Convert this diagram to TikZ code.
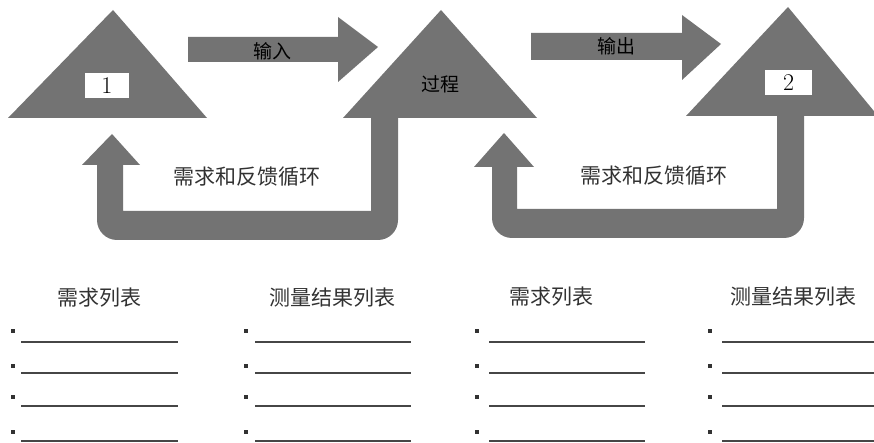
\documentclass[tikz,border=0pt]{standalone}
\usepackage{fontspec}
\newfontfamily\cjk{Noto Sans CJK SC}
\definecolor{shapegray}{RGB}{115,115,115}
\definecolor{txtgray}{RGB}{50,50,50}
\definecolor{linegray}{RGB}{70,70,70}
\tikzset{
  shapefill/.style={fill=shapegray},
  numbox/.style={fill=white, minimum width=44pt, minimum height=25pt, inner sep=0pt, font=\fontsize{24}{26}\selectfont},
  flowlabel/.style={font=\cjk\fontsize{19}{22}\selectfont, text=black, inner sep=0pt},
  looplabel/.style={font=\cjk\fontsize{21}{24}\selectfont, text=txtgray, inner sep=0pt},
  listhead/.style={font=\cjk\fontsize{21}{24}\selectfont, text=txtgray, inner sep=0pt},
  bulletsq/.style={fill=txtgray, minimum size=4pt, inner sep=0pt},
  blankline/.style={draw=linegray, line width=1.4pt}
}
\begin{document}
\begin{tikzpicture}[x=1pt,y=-1pt]
\useasboundingbox (0,0) rectangle (874,443);
% triangles
\fill[shapefill] (8,118) -- (113,10) -- (207,118) -- cycle;
\fill[shapefill] (343,118) -- (441,10) -- (537,118) -- cycle;
\fill[shapefill] (686,116) -- (788,7) -- (878,116) -- cycle;
% input / output arrows
\fill[shapefill] (188,37) -- (338,37) -- (338,17) -- (378,47) -- (338,82) -- (338,62) -- (188,62) -- cycle;
\fill[shapefill] (531,33) -- (682,33) -- (682,15) -- (721,44) -- (682,80) -- (682,60) -- (531,60) -- cycle;
% feedback loop 1
\fill[shapefill] (398,115) -- (398,220) arc[start angle=0, end angle=-90, radius=20pt] -- (117,240) arc[start angle=-90, end angle=-180, radius=20pt] -- (97,165) -- (82,165) -- (112,134) -- (140,165) -- (123,165) -- (123,211) -- (371,211) -- (371,115) -- cycle;
% feedback loop 2
\fill[shapefill] (804,113) -- (804,218) arc[start angle=0, end angle=-90, radius=20pt] -- (512,238) arc[start angle=-90, end angle=-180, radius=20pt] -- (492,167) -- (474,167) -- (504,133) -- (534,167) -- (517,167) -- (517,209) -- (777,209) -- (777,113) -- cycle;
% boxes and labels
\node[numbox] (b1) at (107,86) {1};
\node[numbox, minimum width=47pt] (b2) at (788.5,83) {2};
\node[flowlabel] (in) at (272,51) {\cjk 输入};
\node[flowlabel] (out) at (616,46) {\cjk 输出};
\node[flowlabel] (proc) at (440,84) {\cjk 过程};
\node[looplabel] (fb1) at (247,177) {需求和反馈循环};
\node[looplabel] (fb2) at (654,176) {需求和反馈循环};
% list headers
\node[listhead] (h1) at (99,298) {需求列表};
\node[listhead] (h2) at (332,298) {测量结果列表};
\node[listhead] (h3) at (551,297) {需求列表};
\node[listhead] (h4) at (793,297) {测量结果列表};
% lists
\foreach \bx/\lx/\rx/\col in {13/21/178/a, 246/255/411/b, 477/489/645/c, 710/722/874/d}{
  \foreach \by/\ly/\k in {331/342/1, 366/373/2, 397/406/3, 432/441/4}{
    \node[bulletsq] (bul\col\k) at (\bx,\by) {};
    \coordinate (ls\col\k) at (\lx,\ly);
    \coordinate (le\col\k) at (\rx,\ly);
    \draw[blankline] (ls\col\k) -- (le\col\k);
  }
}
\end{tikzpicture}
\end{document}
